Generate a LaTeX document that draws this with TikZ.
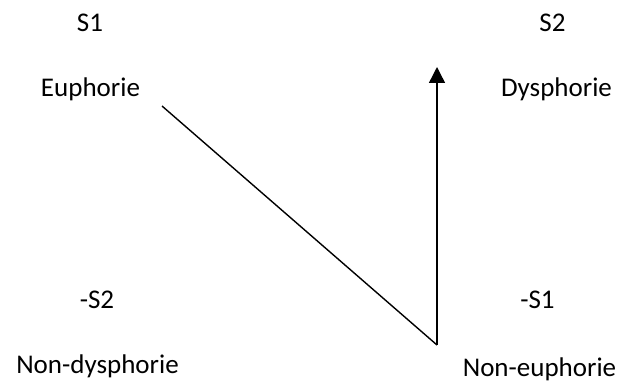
\documentclass[tikz,border=0pt]{standalone}
\usepackage{fontspec}
\setmainfont{Carlito}
\usetikzlibrary{arrows.meta}

\begin{document}
\begin{tikzpicture}[x=1pt,y=-1pt,every node/.style={inner sep=0pt,anchor=base,font=\fontsize{27}{32}\selectfont},line width=1.4pt]
      \useasboundingbox (0,0) rectangle (618,385);
      \node (s1) at (90,32) {S1};
      \node (eu) at (90.5,97) {Euphorie};
      \node (s2) at (552.5,32) {S2};
      \node (dys) at (556.5,97) {Dysphorie};
      \node (nots2) at (97,308) {-S2};
      \node (nots1) at (537.5,308) {-S1};
      \node (nondys) at (97.5,373) {Non-dysphorie};
      \node (noneu) at (539.5,376) {Non-euphorie};
      % the path runs down and then back up
      \coordinate (start) at (162,106);
      \coordinate (bottom) at (437,345);
      \coordinate (top) at (437,67);
      \draw (start) -- (bottom);
      \draw[-{Triangle[width=16pt,length=16pt]}] (bottom) -- (top);
\end{tikzpicture}
\end{document}
